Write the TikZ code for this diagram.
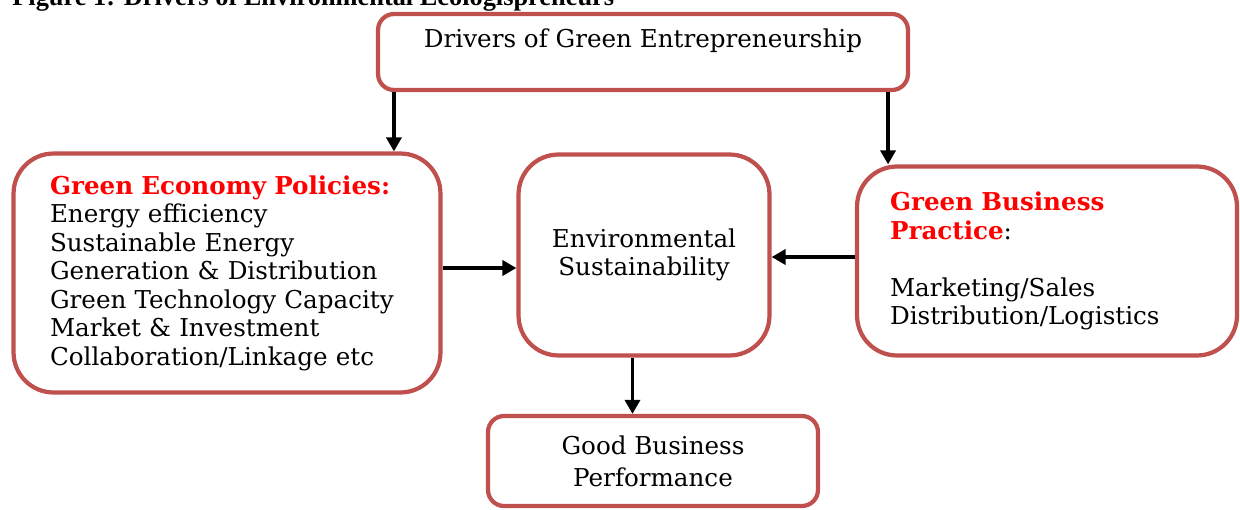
\documentclass[tikz,border=0pt]{standalone}
\usepackage{fontspec}
\setmainfont{DejaVu Serif}
\newfontfamily\headfont{Liberation Serif}
\usepackage{tikz}
\usetikzlibrary{arrows.meta}
\usetikzlibrary{calc}

\definecolor{boxred}{RGB}{192,80,77}

\begin{document}
\begin{tikzpicture}[x=0.02cm, y=-0.02cm, >={Triangle[length=0.28cm,width=0.3cm]},
 box/.style={draw=boxred, line width=2.4pt, rounded corners=#1, fill=white,
  inner sep=0pt, font=\fontsize{14}{16.2}\selectfont},
 box/.default=0.8cm,
 arr/.style={->, line width=2.2pt}]
    % fixed frame, same size as the picture
    \useasboundingbox (0,0) rectangle (1240,510);
    % heading, only the lower half shows
    \node[anchor=base west, font=\headfont\fontsize{15}{18}\bfseries\selectfont, inner sep=0pt]
        (heading) at (12,6) {Figure 1: Drivers of Environmental Ecologispreneurs};

    % boxes
    \node[box=0.32cm, minimum width=10.6cm, minimum height=1.52cm, align=center] (drivers) at (643,52)
        {Drivers of Green Entrepreneurship\\ \mbox{}};
    \node[box, minimum width=8.54cm, minimum height=4.78cm, text width=7.08cm, align=left]
        (policies) at (227,273)
        {\textcolor{red}{\bfseries Green Economy Policies:}\\
         Energy efficiency\\
         Sustainable Energy\\
         Generation \& Distribution\\
         Green Technology Capacity\\
         Market \& Investment\\
         Collaboration/Linkage etc};
    \node[box, minimum width=5.02cm, minimum height=4.02cm, align=center]
        (sustain) at (644,255) {Environmental\\ Sustainability};
    \node[box, minimum width=7.6cm, minimum height=3.78cm, text width=6.28cm, align=left]
        (practice) at (1047,261)
        {\textcolor{red}{\bfseries Green Business}\\
         \textcolor{red}{\bfseries Practice}:\\[16.2pt]
         Marketing/Sales\\
         Distribution/Logistics};
    \node[box=0.32cm, minimum width=6.6cm, minimum height=1.8cm, align=center]
        (perf) at (653,461) {Good Business\\[2pt] Performance};

    % connectors
    \draw[arr] ([xshift=0.36cm]drivers.south west) -- ([xshift=0.36cm]drivers.south west |- policies.north);
    \draw[arr] ([xshift=-0.44cm]drivers.south east) -- ([xshift=-0.44cm]drivers.south east |- practice.north);
    \draw[arr] ([yshift=0.1cm]policies.east) -- ([yshift=0.1cm]policies.east -| sustain.west);
    \draw[arr] ([yshift=0.08cm]practice.west) -- ([yshift=0.08cm]practice.west -| sustain.east);
    \draw[arr] ([xshift=-0.23cm]sustain.south) -- ([xshift=-0.23cm]sustain.south |- perf.north);
\end{tikzpicture}
\end{document}
